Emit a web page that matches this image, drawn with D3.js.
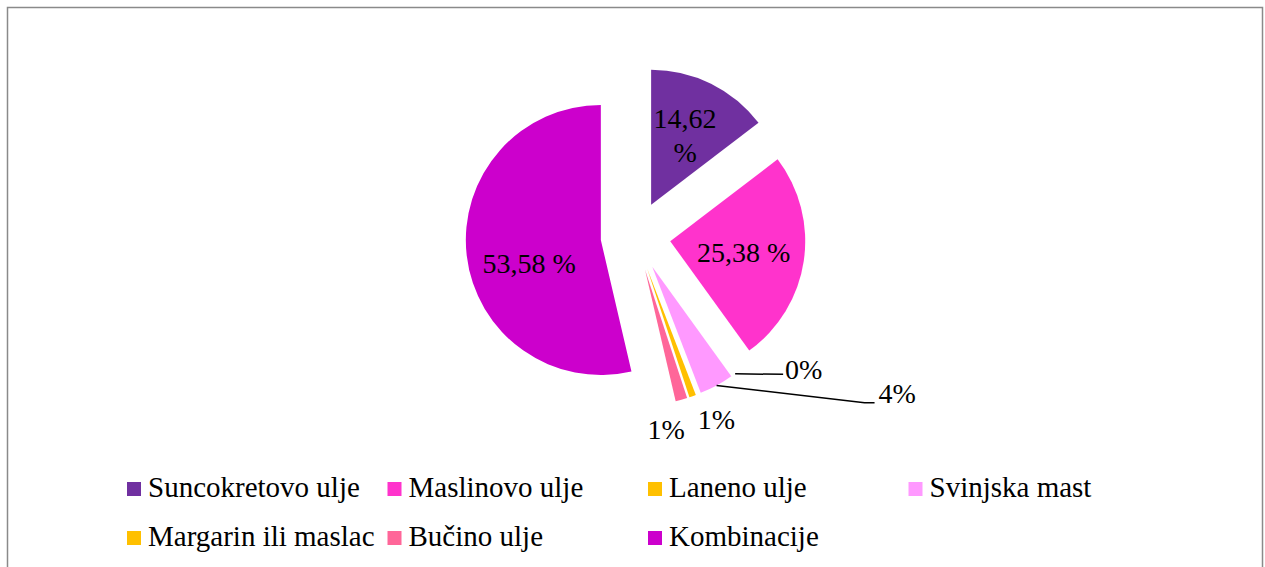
<!DOCTYPE html>
<html>
<head>
<meta charset="utf-8">
<title>Exploded Pie</title>
<style>
  body { margin: 0; background: #fff; }
  svg text { font-family: "Liberation Serif", "Times New Roman", serif; fill: #000; }
</style>
</head>
<body>
<script src="https://cdn.jsdelivr.net/npm/d3@7/dist/d3.min.js"></script>
<script>

  // data
  var categories = ["Suncokretovo ulje", "Maslinovo ulje", "Laneno ulje", "Svinjska mast",
                    "Margarin ili maslac", "Bučino ulje", "Kombinacije"];
  var values = [14.62, 25.38, 0, 4.1, 0.8, 1.4, 53.58];
  var colors = ["#7030A0", "#FF33CC", "#FFC000", "#FF99FF", "#FFC000", "#FF6699", "#CC00CC"];

  var width = 1265, height = 567;
  var cx = 635.6, cy = 236, radius = 135, explode = 35;

  var svg = d3.select("body").append("svg")
    .attr("width", width)
    .attr("height", height);

  // chart border
  svg.append("rect")
    .attr("x", 7.5).attr("y", 7.5)
    .attr("width", 1255).attr("height", 620)
    .attr("fill", "none")
    .attr("stroke", "#8a8a8a")
    .attr("stroke-width", 1.5);

  var data = categories.map(function(c, i){ return {name: c, value: values[i], color: colors[i]}; });

  var pie = d3.pie().sort(null).value(function(d){ return d.value; });
  var arcs = pie(data);

  var arc = d3.arc().innerRadius(0).outerRadius(radius);

  // point at angle a (clockwise from 12 o'clock), distance r
  function polar(a, r) { return [Math.sin(a) * r, -Math.cos(a) * r]; }
  function mid(d) { return (d.startAngle + d.endAngle) / 2; }
  function apex(d) {
    var p = polar(mid(d), explode);
    return [cx + p[0], cy + p[1]];
  }

  var chart = svg.append("g");

  chart.selectAll("path.slice")
    .data(arcs)
    .enter()
    .append("path")
    .attr("class", "slice")
    .attr("transform", function(d){ var a = apex(d); return "translate(" + a[0] + "," + a[1] + ")"; })
    .attr("d", arc)
    .attr("fill", function(d){ return d.data.color; });

  function fmt(v) {
    if (v >= 10) return d3.format(".2f")(v).replace(".", ",") + " %";
    return Math.round(v) + "%";
  }

  // labels inside the big slices
  var nudge = {"Kombinacije": [2, 15], "Suncokretovo ulje": [1, -3]};
  var inside = arcs.filter(function(d){ return d.data.value >= 10; });

  var inLabels = chart.selectAll("text.inlabel")
    .data(inside)
    .enter()
    .append("text")
    .attr("class", "inlabel")
    .attr("text-anchor", "middle")
    .style("font-size", "28px")
    .attr("transform", function(d){
      var a = apex(d), p = polar(mid(d), radius * 0.55), n = nudge[d.data.name] || [0, 0];
      return "translate(" + (a[0] + p[0] + n[0]) + "," + (a[1] + p[1] + n[1]) + ")";
    });

  inLabels.each(function(d){
    var t = d3.select(this), s = fmt(d.data.value);
    if (d.endAngle - d.startAngle < 1) {
      var parts = s.split(" ");
      t.append("tspan").attr("x", 0).attr("dy", "-0.25em").text(parts[0]);
      t.append("tspan").attr("x", 0).attr("dy", "1.2em").text(parts[1]);
    } else {
      t.append("tspan").attr("x", 0).attr("dy", "0.35em").text(s);
    }
  });

  // labels outside the small slices (offsets from the slice's outer point)
  var outside = {
    "Laneno ulje":         {dx: 50,  dy: 5,  leader: [[48, 0.5]]},
    "Svinjska mast":       {dx: 162, dy: 18, leader: [[148, 17.3], [158, 17.3]]},
    "Margarin ili maslac": {dx: 5,   dy: 33},
    "Bučino ulje":         {dx: -34, dy: 39}
  };

  arcs.filter(function(d){ return d.data.value < 10; }).forEach(function(d){
    var o = outside[d.data.name];
    var a = apex(d), p = polar(mid(d), radius);
    var ox = a[0] + p[0], oy = a[1] + p[1];
    if (o.leader) {
      var pts = [[ox, oy]].concat(o.leader.map(function(q){ return [ox + q[0], oy + q[1]]; }));
      chart.append("path")
        .attr("d", d3.line()(pts))
        .attr("fill", "none")
        .attr("stroke", "#000")
        .attr("stroke-width", 1.5);
    }
    chart.append("text")
      .attr("x", ox + o.dx)
      .attr("y", oy + o.dy)
      .style("font-size", "28px")
      .text(fmt(d.data.value));
  });

  // legend
  var legend = svg.append("g")
    .selectAll("g")
    .data(data)
    .enter()
    .append("g")
    .attr("transform", function(d, i){
      return "translate(" + (127 + (i % 4) * 260.5) + "," + (482 + Math.floor(i / 4) * 49) + ")";
    });

  legend.append("rect")
    .attr("width", 14)
    .attr("height", 14)
    .attr("fill", function(d){ return d.color; });

  legend.append("text")
    .attr("x", 21)
    .attr("y", 15)
    .style("font-size", "29px")
    .text(function(d){ return d.name; });

</script>
</body>
</html>
